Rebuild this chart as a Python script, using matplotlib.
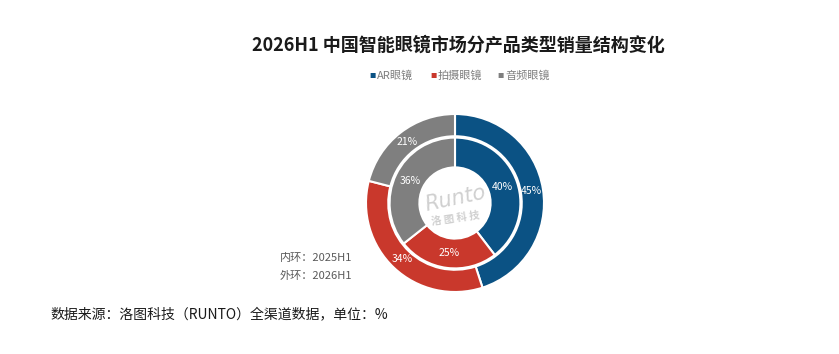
import matplotlib
matplotlib.use("Agg")
import matplotlib.pyplot as plt
import numpy as np

plt.rcParams['font.family'] = ['Noto Sans CJK SC', 'DejaVu Sans']

categories = ['AR眼镜', '拍摄眼镜', '音频眼镜']
outer_2026 = [45, 34, 21]
inner_2025 = [40, 25, 36]
colors = ['#0B5284', '#C9382C', '#7F7F7F']

W, H = 839, 354
fig = plt.figure(figsize=(W / 100, H / 100), dpi=100)
fig.patch.set_facecolor('white')

cx, cy, R = 455, 203, 89
ax = fig.add_axes([(cx - R) / W, (H - cy - R) / H, 2 * R / W, 2 * R / H])

wedge_kw = dict(edgecolor='white', linewidth=1.5)
ax.pie(outer_2026, radius=1.0, colors=colors, startangle=90, counterclock=False,
       wedgeprops=dict(width=0.25, **wedge_kw),
       autopct=lambda p: f'{p:.0f}%', pctdistance=0.87,
       textprops=dict(color='white', fontsize=7.5))
ax.pie(inner_2025, radius=0.735, colors=colors, startangle=90, counterclock=False,
       wedgeprops=dict(width=0.335, **wedge_kw))
ax.set_xlim(-1, 1)
ax.set_ylim(-1, 1)
ax.set_aspect('equal')
ax.axis('off')

tot = sum(inner_2025)
start = 90.0
for v in inner_2025:
    ang = np.deg2rad(start - v / tot * 360 / 2)
    ax.text(0.565 * np.cos(ang), 0.565 * np.sin(ang), f'{v}%', color='white',
            fontsize=7.5, ha='center', va='center')
    start -= v / tot * 360

# watermark
ax.text(0.0, 0.05, 'Runto', fontsize=15, style='italic', color='#D0D0D0',
        ha='center', va='center', rotation=12, family='DejaVu Sans')
ax.text(0.0, -0.17, '洛 图 科 技', fontsize=7.5, color='#D0D0D0', weight='bold',
        ha='center', va='center', rotation=8)

# title
fig.text(458 / W, 1 - 45 / H, '2026H1 中国智能眼镜市场分产品类型销量结构变化',
         fontsize=13, weight='bold', ha='center', va='center', color='#1a1a1a')

# legend
ly = 1 - 76 / H
for cat, c, x in zip(categories, colors, [369, 430, 497]):
    fig.text(x / W, ly, '■', color=c, fontsize=4.5, ha='left', va='center')
    fig.text((x + 8) / W, ly, cat, color='#7F7F7F', fontsize=8, ha='left', va='center')

# ring notes
fig.text(280 / W, 1 - 258 / H, '内环：2025H1', fontsize=8, color='#595959', ha='left', va='center')
fig.text(280 / W, 1 - 276 / H, '外环：2026H1', fontsize=8, color='#595959', ha='left', va='center')

# source
fig.text(50 / W, 1 - 314 / H, '数据来源：洛图科技（RUNTO）全渠道数据，单位：%',
         fontsize=10, color='#1a1a1a', ha='left', va='center')

fig.savefig('out.png', dpi=100, facecolor='white')
